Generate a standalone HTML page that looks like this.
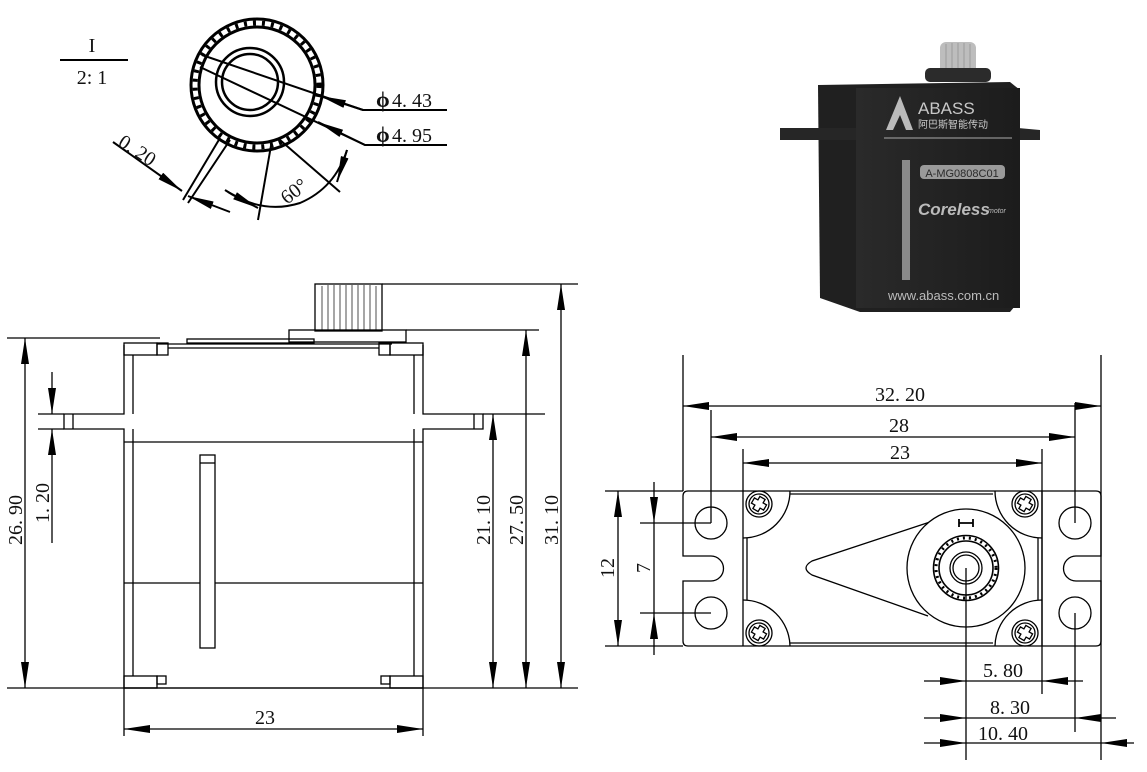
<!DOCTYPE html>
<html><head><meta charset="utf-8"><style>
html,body{margin:0;padding:0;background:#fff;}
svg{display:block;}
text{font-family:"Liberation Serif","Noto Serif CJK SC",serif;fill:#111;}
</style></head><body>
<svg width="1147" height="772" viewBox="0 0 1147 772" xmlns="http://www.w3.org/2000/svg">
<defs>
<marker id="a" viewBox="0 0 26 8" refX="26" refY="4" markerWidth="26" markerHeight="8" markerUnits="userSpaceOnUse" orient="auto-start-reverse"><path d="M0,0 L26,4 L0,8 Z" fill="#000"/></marker>
<linearGradient id="fg" x1="0" x2="1"><stop offset="0" stop-color="#2a2a2a"/><stop offset="1" stop-color="#1c1c1c"/></linearGradient>
</defs>
<g stroke="#000" stroke-width="1.3" fill="none">
<!-- detail view -->
<line x1="60" y1="60" x2="128" y2="60" stroke-width="2"/>
<circle cx="257" cy="85" r="66" stroke-width="3"/>
<circle cx="257" cy="85" r="58" stroke-width="3"/>
<circle cx="257" cy="85" r="62" stroke-width="5" stroke-dasharray="3 6"/>
<circle cx="250" cy="82" r="34" stroke-width="2.5"/>
<circle cx="250" cy="82" r="28" stroke-width="2.5"/>
<polyline points="202,55 363,110 447,110" stroke-width="2"/>
<line x1="363" y1="110" x2="320" y2="96" marker-end="url(#a)" stroke-width="2"/>
<polyline points="200,67 365,145 447,145" stroke-width="2"/>
<line x1="365" y1="145" x2="318" y2="122" marker-end="url(#a)" stroke-width="2"/>
<line x1="220" y1="138" x2="183" y2="200" stroke-width="2"/>
<line x1="230" y1="140" x2="188" y2="203" stroke-width="2"/>
<line x1="113" y1="142" x2="182" y2="191" stroke-width="2" marker-end="url(#a)"/>
<line x1="230" y1="212" x2="188" y2="196" stroke-width="2" marker-end="url(#a)"/>
<line x1="272" y1="140" x2="258" y2="220" stroke-width="2"/>
<line x1="280" y1="140" x2="340" y2="192" stroke-width="2"/>
<path d="M225,190 Q262,215 300,203 Q335,188 347,150" stroke-width="2"/>
<line x1="228" y1="192" x2="258" y2="208" stroke-width="2" marker-end="url(#a)"/>
<line x1="347" y1="150" x2="337" y2="182" stroke-width="2" marker-end="url(#a)"/>

<!-- side view -->
<line x1="7" y1="338" x2="160" y2="338"/>
<line x1="7" y1="688" x2="578" y2="688"/>
<line x1="382" y1="284" x2="578" y2="284"/>
<line x1="406" y1="330" x2="539" y2="330"/>
<line x1="483" y1="414" x2="545" y2="414"/>
<line x1="38" y1="414" x2="64" y2="414"/>
<line x1="38" y1="429" x2="64" y2="429"/>
<rect x="315" y="284" width="67" height="47" fill="#fff"/>
<g stroke-width="0.7"><line x1="322" y1="286" x2="322" y2="330"/><line x1="328" y1="285" x2="328" y2="330"/><line x1="334" y1="285" x2="334" y2="330"/><line x1="340" y1="285" x2="340" y2="330"/><line x1="346" y1="285" x2="346" y2="330"/><line x1="352" y1="285" x2="352" y2="330"/><line x1="358" y1="285" x2="358" y2="330"/><line x1="364" y1="285" x2="364" y2="330"/><line x1="370" y1="285" x2="370" y2="330"/><line x1="376" y1="286" x2="376" y2="330"/></g>
<rect x="289" y="330" width="117" height="12"/>
<rect x="187" y="339" width="127" height="4"/>
<line x1="157" y1="344" x2="392" y2="344"/>
<line x1="168" y1="348" x2="379" y2="348"/>
<path d="M124,345 L124,414 L64,414 L64,429 L124,429 L124,688 L423,688 L423,429 L483,429 L483,414 L423,414 L423,345"/>
<line x1="133" y1="355" x2="133" y2="414"/>
<line x1="133" y1="429" x2="133" y2="676"/>
<line x1="414" y1="355" x2="414" y2="414"/>
<line x1="414" y1="429" x2="414" y2="676"/>
<rect x="124" y="343" width="33" height="12"/><rect x="157" y="343" width="11" height="12"/>
<rect x="390" y="343" width="33" height="12"/><rect x="379" y="343" width="11" height="12"/>
<rect x="124" y="676" width="33" height="12"/><rect x="157" y="676" width="9" height="8"/>
<rect x="390" y="676" width="33" height="12"/><rect x="381" y="676" width="9" height="8"/>
<line x1="73" y1="414" x2="73" y2="429"/><line x1="474" y1="414" x2="474" y2="429"/>
<line x1="124" y1="442" x2="423" y2="442"/>
<line x1="124" y1="583" x2="423" y2="583"/>
<rect x="200" y="455" width="15" height="193" fill="#fff"/>
<line x1="200" y1="463" x2="215" y2="463"/>
<line x1="25" y1="338" x2="25" y2="688" marker-start="url(#a)" marker-end="url(#a)"/>
<line x1="52" y1="372" x2="52" y2="414" marker-end="url(#a)"/>
<line x1="52" y1="455" x2="52" y2="429" marker-end="url(#a)"/>
<line x1="52" y1="455" x2="52" y2="543"/>
<line x1="493" y1="414" x2="493" y2="688" marker-start="url(#a)" marker-end="url(#a)"/>
<line x1="526" y1="330" x2="526" y2="688" marker-start="url(#a)" marker-end="url(#a)"/>
<line x1="561" y1="284" x2="561" y2="688" marker-start="url(#a)" marker-end="url(#a)"/>
<line x1="124" y1="688" x2="124" y2="736"/><line x1="423" y1="688" x2="423" y2="736"/>
<line x1="124" y1="729" x2="423" y2="729" marker-start="url(#a)" marker-end="url(#a)"/>

<!-- top view -->
<path d="M688,491 L1096,491 Q1101,491 1101,496 L1101,556 L1076,556 A12.5,12.5 0 0 0 1076,581 L1101,581 L1101,641 Q1101,646 1096,646 L688,646 Q683,646 683,641 L683,581 L711,581 A12.5,12.5 0 0 0 711,556 L683,556 L683,496 Q683,491 688,491 Z"/>
<circle cx="711" cy="523" r="16"/><circle cx="711" cy="613" r="16"/>
<circle cx="1075" cy="523" r="16"/><circle cx="1075" cy="613" r="16"/>
<line x1="743" y1="491" x2="743" y2="646"/><line x1="1042" y1="491" x2="1042" y2="646"/>
<path d="M790,494 L993,494 M790,643 L993,643 M747,538 L747,600 M1038,538 L1038,600"/>
<path d="M790,491 A47,47 0 0 1 743,538"/>
<path d="M995,491 A47,47 0 0 0 1042,538"/>
<path d="M743,600 A47,47 0 0 1 790,646"/>
<path d="M1042,600 A47,47 0 0 0 995,646"/>
<g id="sc"><circle cx="759" cy="504" r="13"/><circle cx="759" cy="504" r="10"/><path d="M756,497 h6 v4 h4 v6 h-4 v4 h-6 v-4 h-4 v-6 h4 z" transform="rotate(30 759 504)"/></g>
<use href="#sc" x="266" y="0"/><use href="#sc" x="0" y="129"/><use href="#sc" x="266" y="129"/>
<path d="M933,521 L812,561 Q800,568 812,575 L928,616" fill="#fff"/>
<circle cx="966" cy="568" r="59" fill="#fff"/>
<circle cx="966" cy="568" r="32.5" stroke-width="1.6"/>
<circle cx="966" cy="568" r="27" stroke-width="1.6"/>
<circle cx="966" cy="568" r="30" stroke-width="3" stroke-dasharray="2 4"/>
<circle cx="966" cy="568" r="16"/><circle cx="966" cy="568" r="13"/>
<path d="M959,523 h14 M959,519 v8 M973,519 v8" stroke-width="1.8"/>
<line x1="683" y1="355" x2="683" y2="491"/><line x1="1101" y1="355" x2="1101" y2="760"/>
<line x1="683" y1="406" x2="1101" y2="406" marker-start="url(#a)" marker-end="url(#a)"/>
<line x1="711" y1="410" x2="711" y2="523"/><line x1="1075" y1="403" x2="1075" y2="523"/>
<line x1="1075" y1="613" x2="1075" y2="732"/>
<line x1="711" y1="437" x2="1075" y2="437" marker-start="url(#a)" marker-end="url(#a)"/>
<line x1="743" y1="449" x2="743" y2="491"/><line x1="1042" y1="449" x2="1042" y2="694"/>
<line x1="743" y1="463" x2="1042" y2="463" marker-start="url(#a)" marker-end="url(#a)"/>
<line x1="605" y1="491" x2="683" y2="491"/><line x1="605" y1="646" x2="683" y2="646"/>
<line x1="618" y1="491" x2="618" y2="646" marker-start="url(#a)" marker-end="url(#a)"/>
<line x1="640" y1="523" x2="711" y2="523"/><line x1="640" y1="613" x2="711" y2="613"/>
<line x1="654" y1="482" x2="654" y2="523" marker-end="url(#a)"/>
<line x1="654" y1="655" x2="654" y2="613" marker-end="url(#a)"/>
<line x1="654" y1="523" x2="654" y2="613"/>
<line x1="966" y1="568" x2="966" y2="760"/>
<line x1="924" y1="681" x2="966" y2="681" marker-end="url(#a)"/>
<line x1="1083" y1="681" x2="1042" y2="681" marker-end="url(#a)"/>
<line x1="966" y1="681" x2="1042" y2="681"/>
<line x1="924" y1="718" x2="966" y2="718" marker-end="url(#a)"/>
<line x1="1116" y1="718" x2="1075" y2="718" marker-end="url(#a)"/>
<line x1="966" y1="718" x2="1075" y2="718"/>
<line x1="924" y1="743" x2="966" y2="743" marker-end="url(#a)"/>
<line x1="1134" y1="743" x2="1101" y2="743" marker-end="url(#a)"/>
<line x1="966" y1="743" x2="1101" y2="743"/>
</g>

<!-- texts -->
<g font-size="20">
<text x="92" y="52" text-anchor="middle">I</text>
<text x="92" y="84" text-anchor="middle">2: 1</text>
<text x="376" y="107" font-weight="bold" font-size="22">ϕ</text><text x="392" y="107">4. 43</text>
<text x="376" y="142" font-weight="bold" font-size="22">ϕ</text><text x="392" y="142">4. 95</text>
<text x="0" y="0" transform="translate(117,145) rotate(33)">0. 20</text>
<text x="0" y="0" transform="translate(287,205) rotate(-38)">60°</text>
<text x="265" y="724" text-anchor="middle">23</text>
<text transform="translate(22,520) rotate(-90)" text-anchor="middle">26. 90</text>
<text transform="translate(49,503) rotate(-90)" text-anchor="middle">1. 20</text>
<text transform="translate(490,520) rotate(-90)" text-anchor="middle">21. 10</text>
<text transform="translate(523,520) rotate(-90)" text-anchor="middle">27. 50</text>
<text transform="translate(558,520) rotate(-90)" text-anchor="middle">31. 10</text>
<text x="900" y="401" text-anchor="middle">32. 20</text>
<text x="899" y="432" text-anchor="middle">28</text>
<text x="900" y="459" text-anchor="middle">23</text>
<text transform="translate(614,568) rotate(-90)" text-anchor="middle">12</text>
<text transform="translate(650,568) rotate(-90)" text-anchor="middle">7</text>
<text x="1003" y="677" text-anchor="middle">5. 80</text>
<text x="1010" y="714" text-anchor="middle">8. 30</text>
<text x="1003" y="740" text-anchor="middle">10. 40</text>
</g>

<!-- photo -->
<g>
<rect x="940" y="42" width="36" height="34" rx="6" fill="#bdbdbd"/>
<g stroke="#9a9a9a" stroke-width="1"><line x1="946" y1="44" x2="946" y2="74"/><line x1="952" y1="43" x2="952" y2="74"/><line x1="958" y1="43" x2="958" y2="74"/><line x1="964" y1="43" x2="964" y2="74"/><line x1="970" y1="44" x2="970" y2="74"/></g>
<rect x="925" y="68" width="66" height="14" rx="5" fill="#2b2b2b"/>
<path d="M818,85 L1010,82 L1020,90 L1020,300 L1010,312 L860,312 L820,298 Z" fill="#202020"/>
<path d="M780,128 L860,128 L860,140 L780,140 Z" fill="#262626"/>
<path d="M1018,128 L1040,130 L1040,140 L1018,140 Z" fill="#262626"/>
<rect x="856" y="88" width="164" height="220" fill="url(#fg)"/>
<rect x="902" y="160" width="8" height="120" fill="#8a8a8a"/>
<rect x="920" y="165" width="85" height="14" rx="4" fill="#9a9a9a"/>
<text x="962" y="177" text-anchor="middle" style="font-family:'Liberation Sans',sans-serif;font-size:11px;fill:#2a2a2a">A-MG0808C01</text>
<path d="M886,130 L900,96 L913,130 L906,130 L900,115 L893,130 Z" fill="#bbb"/>
<text x="918" y="114" style="font-family:'Liberation Sans',sans-serif;font-size:17px;fill:#c8c8c8">ABASS</text>
<text x="918" y="128" style="font-family:'Liberation Sans','Noto Sans CJK SC',sans-serif;font-size:10px;fill:#c8c8c8">阿巴斯智能传动</text>
<line x1="884" y1="138" x2="1012" y2="138" stroke="#aaa" stroke-width="1"/>
<text x="918" y="215" style="font-family:'Liberation Sans',sans-serif;font-size:17px;font-style:italic;font-weight:bold;fill:#bbb">Coreless</text>
<text x="988" y="213" style="font-family:'Liberation Sans',sans-serif;font-size:7px;font-style:italic;fill:#bbb">motor</text>
<text x="888" y="300" style="font-family:'Liberation Sans',sans-serif;font-size:13px;fill:#bbb">www.abass.com.cn</text>
</g>
</svg>
</body></html>
